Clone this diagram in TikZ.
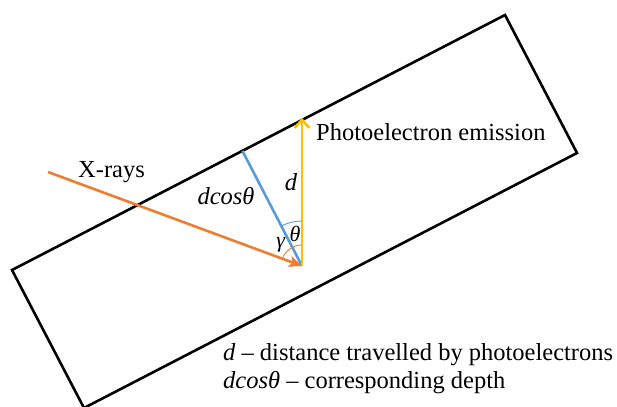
\documentclass[tikz,border=0pt]{standalone}
\usepackage{fontspec}
\setmainfont{Liberation Serif}
\usetikzlibrary{arrows.meta,calc}
\definecolor{xorange}{HTML}{ED7D31}
\definecolor{xblue}{HTML}{5B9BD5}
\definecolor{xyellow}{HTML}{FFC000}
\begin{document}
\begin{tikzpicture}[x=1pt,y=-1pt,
  lbl/.style={font=\fontsize{24.5}{29}\selectfont, inner sep=0pt},
  frame/.style={draw=black, line width=2.6pt, line join=miter},
  ray/.style={line width=2.6pt},
  thinarc/.style={line width=0.9pt}]
\useasboundingbox (0,0) rectangle (617,406);
\coordinate (L) at (12,270);
\coordinate (T) at (505,15);
\coordinate (R) at (577,153);
\coordinate (B) at (84,408);
\draw[frame] (L) -- (T) -- (R) -- (B) -- cycle;
\coordinate (O) at (302,266);
\coordinate (S) at (48,172);
\coordinate (Y) at (302,118);
\coordinate (F) at ($(L)!(O)!(T)$);
\draw[ray, xblue] (O) -- (F);
\draw[ray, xorange, -{Stealth[length=13pt,width=11pt,inset=3pt]}] (S) -- (O);
\draw[ray, xyellow, -{Straight Barb[length=8pt,width=15pt]}] (O) -- (Y);
\draw[thinarc, xblue] ($(O)+(242.4:45)$) arc[start angle=242.4, end angle=270, radius=45];
\draw[thinarc, xorange] ($(O)+(200.3:21)$) arc[start angle=200.3, end angle=270, radius=21];
\node[lbl, anchor=base west] (pe) at (316,141) {Photoelectron emission};
\node[lbl, anchor=base west] (xr) at (78,177) {X-rays};
\node[lbl] (dl) at (291,182) {\textit{d}};
\node[lbl] (dc) at (226,196) {\textit{dcosθ}};
\node[lbl, font=\fontsize{22}{26}\selectfont] (th) at (295,234) {\textit{θ}};
\node[lbl, font=\fontsize{22}{26}\selectfont] (ga) at (281,245) {\textit{γ}};
\node[lbl, anchor=base west] (l1) at (223,360) {\textit{d} – distance travelled by photoelectrons};
\node[lbl, anchor=base west] (l2) at (223,388) {\textit{dcosθ} – corresponding depth};
\end{tikzpicture}
\end{document}
